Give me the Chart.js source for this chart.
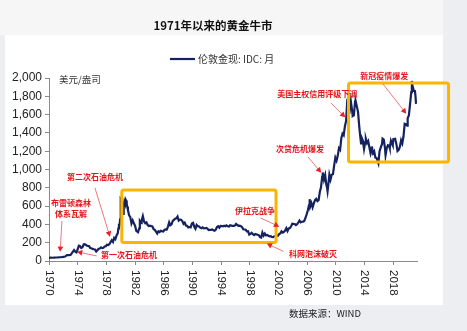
<!DOCTYPE html>
<html>
<head>
<meta charset="utf-8">
<script src="https://cdn.jsdelivr.net/npm/chart.js@4.4.0/dist/chart.umd.min.js"></script>
<style>
html, body { margin: 0; padding: 0; background: #f1f2f4; }
canvas { display: block; }
</style>
</head>
<body>
<canvas id="goldChart" width="467" height="331"></canvas>
<script>
var months = [
  '1970-01','1970-04','1970-07','1970-10',
  '1971-01','1971-04','1971-07','1971-10',
  '1972-01','1972-04','1972-07','1972-10',
  '1973-01','1973-03','1973-05','1973-07','1973-09','1973-11',
  '1974-01','1974-03','1974-05','1974-07','1974-09','1974-11','1974-12',
  '1975-02','1975-04','1975-06','1975-08','1975-10','1975-12',
  '1976-02','1976-04','1976-06','1976-08','1976-10','1976-12',
  '1977-02','1977-04','1977-06','1977-08','1977-10','1977-12',
  '1978-02','1978-04','1978-06','1978-08','1978-10','1978-12',
  '1979-02','1979-04','1979-06','1979-08','1979-09','1979-10','1979-11','1979-12',
  '1980-01','1980-02','1980-03','1980-04','1980-05','1980-06','1980-07','1980-08','1980-09','1980-10','1980-11','1980-12',
  '1981-01','1981-03','1981-05','1981-07','1981-09','1981-11',
  '1982-01','1982-03','1982-06','1982-08','1982-09','1982-11','1982-12',
  '1983-02','1983-04','1983-06','1983-08','1983-10','1983-12',
  '1984-02','1984-04','1984-06','1984-08','1984-10','1984-12',
  '1985-02','1985-04','1985-06','1985-08','1985-10','1985-12',
  '1986-02','1986-04','1986-06','1986-08','1986-10','1986-12',
  '1987-02','1987-04','1987-06','1987-08','1987-10','1987-12',
  '1988-02','1988-04','1988-06','1988-08','1988-10','1988-12',
  '1989-02','1989-04','1989-06','1989-08','1989-10','1989-12',
  '1990-02','1990-04','1990-06','1990-08','1990-10','1990-12',
  '1991-02','1991-04','1991-06','1991-08','1991-10','1991-12',
  '1992-02','1992-04','1992-06','1992-08','1992-10','1992-12',
  '1993-02','1993-04','1993-06','1993-08','1993-10','1993-12',
  '1994-02','1994-04','1994-06','1994-08','1994-10','1994-12',
  '1995-02','1995-04','1995-06','1995-08','1995-10','1995-12',
  '1996-02','1996-04','1996-06','1996-08','1996-10','1996-12',
  '1997-02','1997-04','1997-06','1997-08','1997-10','1997-12',
  '1998-02','1998-04','1998-06','1998-08','1998-10','1998-12',
  '1999-02','1999-04','1999-06','1999-08','1999-10','1999-12',
  '2000-02','2000-04','2000-06','2000-08','2000-10','2000-12',
  '2001-02','2001-04','2001-06','2001-08','2001-10','2001-12',
  '2002-02','2002-04','2002-06','2002-08','2002-10','2002-12',
  '2003-02','2003-04','2003-06','2003-08','2003-10','2003-12',
  '2004-02','2004-04','2004-06','2004-08','2004-10','2004-12',
  '2005-02','2005-04','2005-06','2005-08','2005-10','2005-12',
  '2006-02','2006-04','2006-05','2006-06','2006-08','2006-10','2006-12',
  '2007-02','2007-04','2007-06','2007-08','2007-10','2007-12',
  '2008-02','2008-03','2008-05','2008-07','2008-09','2008-10','2008-11','2008-12',
  '2009-02','2009-04','2009-06','2009-08','2009-10','2009-12',
  '2010-02','2010-04','2010-06','2010-08','2010-10','2010-12',
  '2011-02','2011-04','2011-06','2011-08','2011-09','2011-10','2011-12',
  '2012-02','2012-04','2012-05','2012-07','2012-09','2012-10','2012-12',
  '2013-02','2013-04','2013-06','2013-07','2013-08','2013-10','2013-12',
  '2014-02','2014-03','2014-05','2014-07','2014-09','2014-11','2014-12',
  '2015-01','2015-03','2015-05','2015-07','2015-09','2015-11','2015-12',
  '2016-02','2016-04','2016-06','2016-07','2016-09','2016-11','2016-12',
  '2017-02','2017-04','2017-06','2017-07','2017-09','2017-11','2017-12',
  '2018-01','2018-04','2018-06','2018-08','2018-10','2018-12',
  '2019-02','2019-04','2019-06','2019-08','2019-10','2019-12',
  '2020-01','2020-03','2020-05','2020-07','2020-08','2020-09','2020-11','2020-12',
  '2021-01','2021-02','2021-03'
]
var prices = [
  35, 36, 35.3, 37.5,
  38, 39, 41, 42.5,
  46, 49, 65, 64,
  65, 84, 102, 120, 103, 94,
  130, 168, 163, 143, 151, 181, 183,
  180, 170, 164, 163, 142, 139,
  132, 128, 125, 104, 117, 134,
  136, 149, 141, 145, 158, 161,
  178, 175, 183, 206, 227, 208,
  252, 238, 279, 302, 355, 392, 391, 456,
  675, 665, 553, 517, 514, 600, 644, 627, 674, 661, 623, 594,
  557, 500, 480, 409, 443, 412,
  384, 330, 315, 358, 436, 415, 444,
  491, 432, 413, 422, 393, 381,
  385, 381, 378, 347, 340, 320,
  300, 325, 317, 331, 325, 322,
  339, 345, 343, 376, 423, 391,
  401, 438, 450, 461, 466, 486,
  442, 452, 451, 437, 407, 420,
  388, 385, 367, 371, 367, 410,
  417, 375, 353, 395, 381, 378,
  364, 358, 367, 357, 358, 361,
  354, 338, 341, 341, 345, 335,
  330, 342, 372, 380, 364, 383,
  382, 378, 385, 380, 389, 379,
  377, 391, 387, 383, 383, 387,
  405, 393, 385, 387, 380, 369,
  346, 344, 341, 324, 325, 289,
  297, 308, 293, 284, 296, 291,
  287, 282, 261, 256, 311, 279,
  300, 280, 285, 275, 270, 272,
  262, 261, 270, 273, 279, 276,
  294, 302, 324, 310, 317, 333,
  359, 328, 356, 360, 379, 407,
  405, 404, 392, 401, 421, 442,
  423, 429, 431, 437, 470, 510,
  555, 610, 676, 596, 633, 586, 629,
  665, 679, 655, 665, 754, 806,
  922, 968, 889, 939, 829, 806, 761, 816,
  943, 890, 945, 949, 1043, 1129,
  1096, 1149, 1233, 1215, 1342, 1391,
  1374, 1474, 1529, 1760, 1771, 1665, 1642,
  1742, 1650, 1585, 1593, 1744, 1747, 1688,
  1627, 1468, 1342, 1286, 1347, 1316, 1225,
  1300, 1336, 1288, 1311, 1241, 1176, 1200,
  1251, 1179, 1199, 1130, 1125, 1086, 1068,
  1200, 1242, 1276, 1337, 1326, 1236, 1157,
  1234, 1266, 1260, 1236, 1315, 1280, 1265,
  1331, 1335, 1282, 1202, 1215, 1250,
  1320, 1285, 1360, 1500, 1495, 1480,
  1560, 1591, 1715, 1846, 1968, 1921, 1866, 1858,
  1867, 1808, 1718
]
var xTickLabels = [1970, 1974, 1978, 1982, 1986, 1990, 1994, 1998, 2002, 2006, 2010, 2014, 2018]
var yTickValues = [0, 200, 400, 600, 800, 1000, 1200, 1400, 1600, 1800, 2000]

var seriesName = '伦敦金现: IDC: 月'
var unitText = '美元/盎司'
var titleText = '1971年以来的黄金牛市'
var sourceText = '数据来源：WIND'

// event notes, placed in data units [year, price]
var notes = [
  { lines: ['布雷顿森林', '体系瓦解'], at: [1973.05, 634], from: [1971.8, 437], to: [1971.55, 100] },
  { lines: ['第二次石油危机'], at: [1976.4, 918], from: [1976.4, 800], to: [1978.5, 265] },
  { lines: ['第一次石油危机'], at: [1981.15, 66], from: [1976.65, 55], to: [1973.9, 100] },
  { lines: ['伊拉克战争'], at: [1998.7, 547], from: [1999.5, 470], to: [2002.1, 375] },
  { lines: ['科网泡沫破灭'], at: [2006.8, 77], from: [2002.7, 105], to: [2000.35, 190] },
  { lines: ['次贷危机爆发'], at: [2005.0, 1224], from: [2006.1, 1137], to: [2007.95, 965] },
  { lines: ['美国主权信用评级下调'], at: [2007.4, 1825], from: [2009.3, 1727], to: [2011.3, 1570] },
  { lines: ['新冠疫情爆发'], at: [2016.75, 2022], from: [2016.55, 1935], to: [2019.8, 1610] }
]
// highlighted periods [year0, year1, priceTop, priceBottom]
var boxes = [
  [1980.15, 2001.65, 776, 202],
  [2011.75, 2025.7, 1946, 1082]
]

function toYear(m) {
  var p = m.split('-')
  return +p[0] + (+p[1] - 1) / 12
}

var points = months.map(function(m, i) { return { x: toYear(m), y: prices[i] } })

function drawArrow(ctx, x1, y1, x2, y2) {
  var a = Math.atan2(y2 - y1, x2 - x1)
  ctx.strokeStyle = 'rgba(226,70,70,0.8)'
  ctx.lineWidth = 0.9
  ctx.beginPath()
  ctx.moveTo(x1, y1)
  ctx.lineTo(x2 - 3 * Math.cos(a), y2 - 3 * Math.sin(a))
  ctx.stroke()
  ctx.fillStyle = '#e8202a'
  ctx.beginPath()
  ctx.moveTo(x2, y2)
  ctx.lineTo(x2 - 6 * Math.cos(a - 0.5), y2 - 6 * Math.sin(a - 0.5))
  ctx.lineTo(x2 - 6 * Math.cos(a + 0.5), y2 - 6 * Math.sin(a + 0.5))
  ctx.closePath()
  ctx.fill()
}

var decor = {
  id: 'decor',
  beforeDraw: function(chart) {
    var ctx = chart.ctx
    ctx.save()
    ctx.fillStyle = '#eceef1'
    ctx.fillRect(0, 0, chart.width, chart.height)
    ctx.fillStyle = '#f6f6f7'
    ctx.fillRect(0, 0, 443, 35)
    ctx.fillStyle = '#ffffff'
    ctx.fillRect(5, 35, 438, 270)
    ctx.restore()
  },
  afterDraw: function(chart) {
    var ctx = chart.ctx
    var xs = chart.scales.x, ys = chart.scales.y
    var area = chart.chartArea
    ctx.save()

    // title
    ctx.fillStyle = '#111'
    ctx.font = 'bold 11.5px "Noto Sans CJK SC", Arial, sans-serif'
    ctx.textAlign = 'center'
    ctx.textBaseline = 'middle'
    ctx.fillText(titleText, 213, 26)

    // legend
    ctx.strokeStyle = '#14235f'
    ctx.lineWidth = 2.2
    ctx.beginPath()
    ctx.moveTo(170, 59)
    ctx.lineTo(195, 59)
    ctx.stroke()
    ctx.fillStyle = '#333'
    ctx.font = '10px "Noto Sans CJK SC", sans-serif'
    ctx.textAlign = 'left'
    ctx.fillText(seriesName, 198, 59)

    // unit
    ctx.font = '9.5px "Noto Sans CJK SC", sans-serif'
    ctx.fillText(unitText, 59, 79)

    // x tick labels, rotated clockwise
    ctx.font = '11.5px Arial, "Liberation Sans", sans-serif'
    ctx.fillStyle = '#222'
    xTickLabels.forEach(function(yr) {
      var px = xs.getPixelForValue(yr)
      ctx.save()
      ctx.translate(px, area.bottom + 9)
      ctx.rotate(Math.PI / 2)
      ctx.textAlign = 'left'
      ctx.textBaseline = 'middle'
      ctx.fillText(String(yr), 0, 0)
      ctx.restore()
    })

    // highlighted periods
    ctx.strokeStyle = '#fbb400'
    ctx.lineWidth = 3
    boxes.forEach(function(b) {
      var x0 = xs.getPixelForValue(b[0]), x1 = xs.getPixelForValue(b[1])
      var y0 = ys.getPixelForValue(b[2]), y1 = ys.getPixelForValue(b[3])
      ctx.beginPath()
      if (ctx.roundRect) ctx.roundRect(x0, y0, x1 - x0, y1 - y0, 2)
      else ctx.rect(x0, y0, x1 - x0, y1 - y0)
      ctx.stroke()
    })

    // notes
    notes.forEach(function(n) {
      drawArrow(ctx, xs.getPixelForValue(n.from[0]), ys.getPixelForValue(n.from[1]),
        xs.getPixelForValue(n.to[0]), ys.getPixelForValue(n.to[1]))
      ctx.fillStyle = '#e8141c'
      ctx.font = 'bold 8px "Noto Sans CJK SC", sans-serif'
      ctx.textAlign = 'center'
      ctx.textBaseline = 'middle'
      var cx = xs.getPixelForValue(n.at[0]), cy = ys.getPixelForValue(n.at[1])
      n.lines.forEach(function(t, i) {
        ctx.fillText(t, cx, cy + i * 10.5)
      })
    })

    // source
    ctx.fillStyle = '#222'
    ctx.font = '9.5px "Noto Sans CJK SC", sans-serif'
    ctx.textAlign = 'left'
    ctx.fillText(sourceText, 289, 313)
    ctx.restore()
  }
}

var myChart = new Chart(document.getElementById('goldChart').getContext('2d'), {
  type: 'line',
  data: {
    datasets: [{
      label: seriesName,
      data: points,
      borderColor: '#14235f',
      borderWidth: 2.2,
      pointRadius: 0,
      tension: 0
    }]
  },
  options: {
    responsive: false,
    animation: false,
    devicePixelRatio: 1,
    layout: { padding: { top: 78, right: 50, bottom: 0, left: 0 } },
    plugins: {
      legend: { display: false },
      title: { display: false },
      tooltip: { enabled: false }
    },
    scales: {
      x: {
        type: 'linear',
        min: 1970,
        max: 2021.3,
        afterBuildTicks: function(axis) {
          axis.ticks = xTickLabels.map(function(v) { return { value: v } })
        },
        afterFit: function(axis) { axis.height = 70 },
        ticks: { display: false },
        grid: { drawOnChartArea: false, tickLength: 4, color: '#8a8a8a' },
        border: { color: '#8a8a8a', width: 1 }
      },
      y: {
        min: 0,
        max: 2000,
        afterBuildTicks: function(axis) {
          axis.ticks = yTickValues.map(function(v) { return { value: v } })
        },
        afterFit: function(axis) { axis.width = 49 },
        ticks: {
          padding: 3,
          color: '#222',
          font: { family: 'Arial, "Liberation Sans", sans-serif', size: 12 },
          callback: function(v) { return v.toLocaleString('en-US') }
        },
        grid: { drawOnChartArea: false, tickLength: 4, color: '#8a8a8a' },
        border: { color: '#8a8a8a', width: 1 }
      }
    }
  },
  plugins: [decor]
})
</script>
</body>
</html>
